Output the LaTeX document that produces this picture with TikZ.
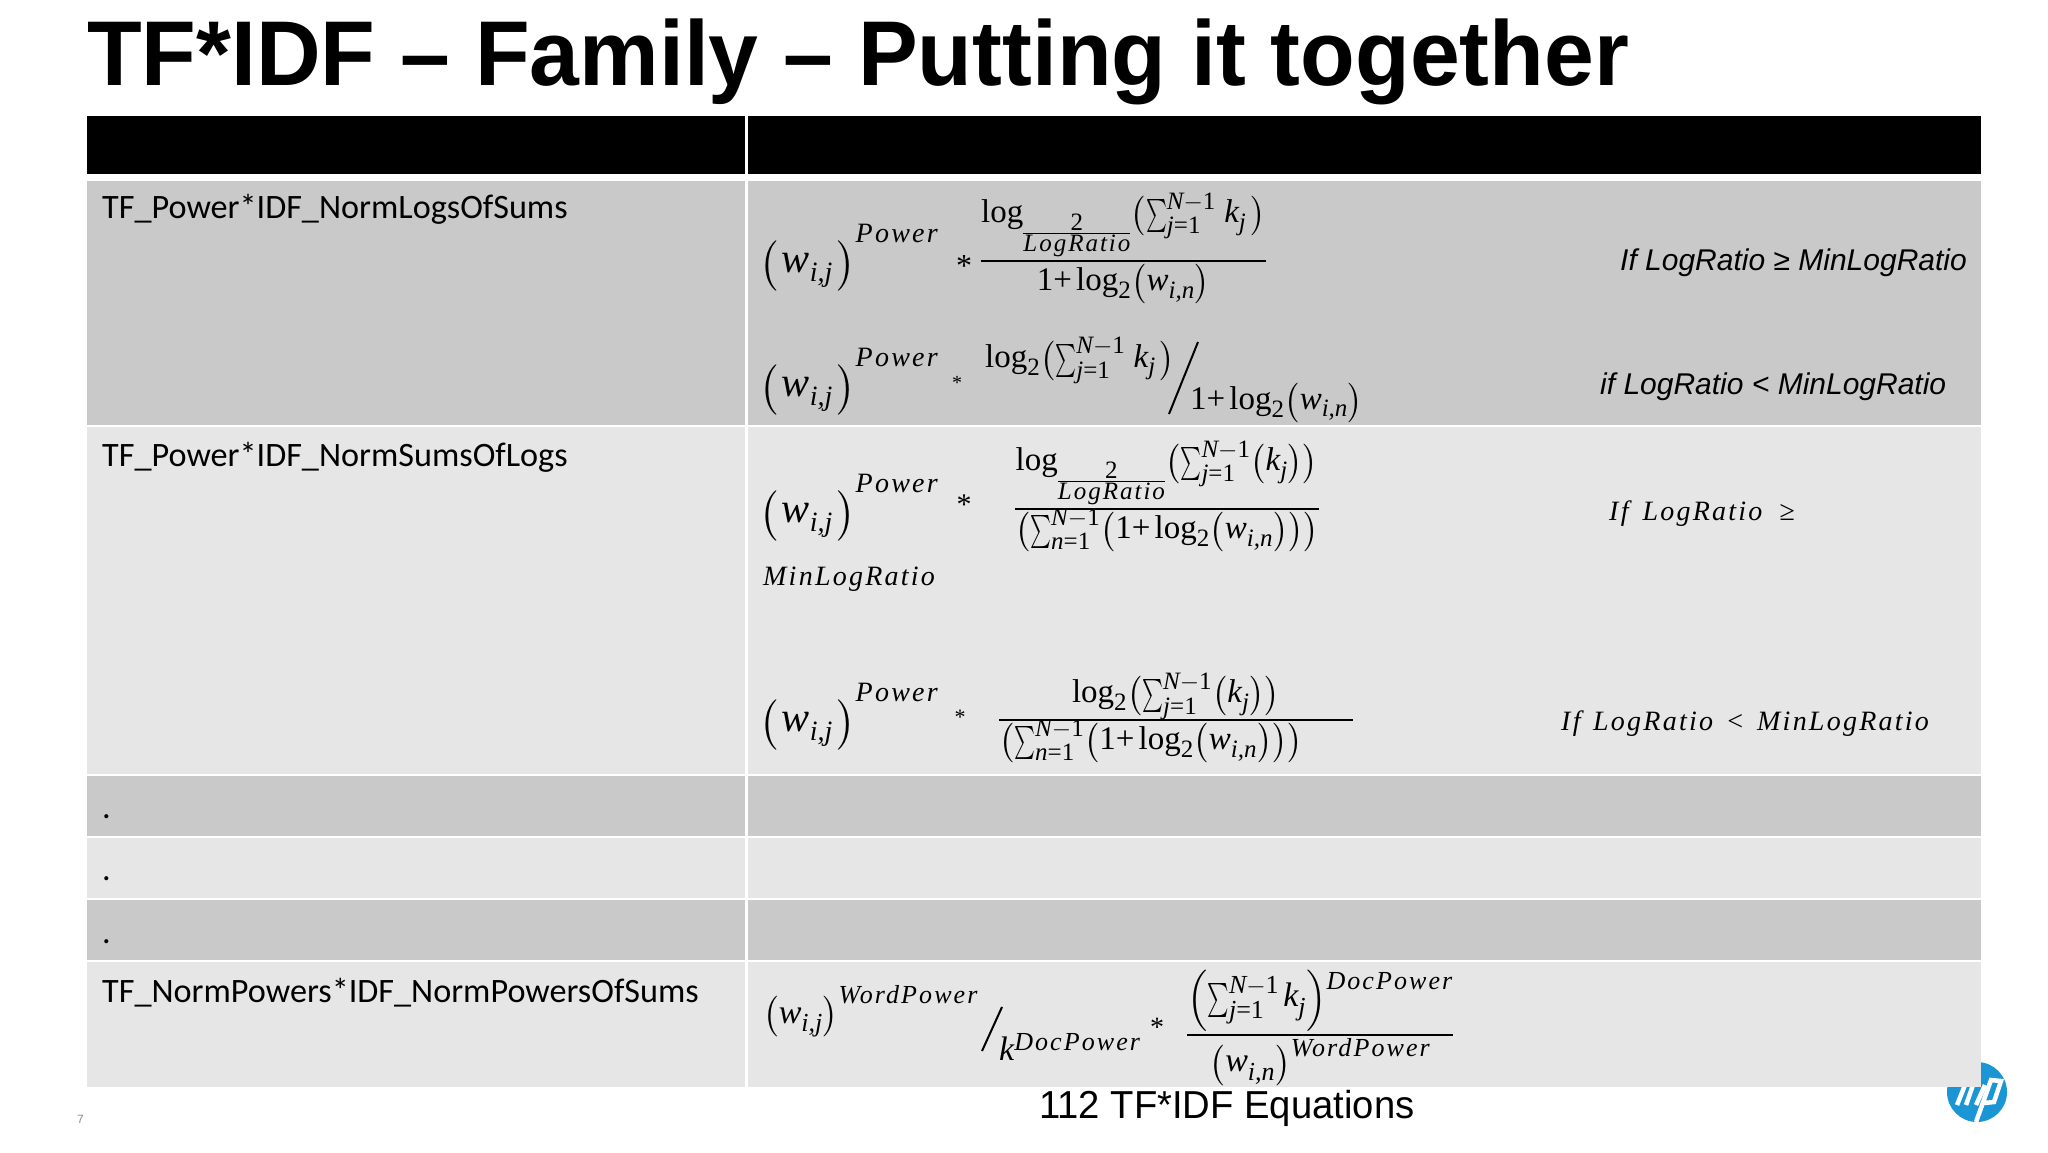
\documentclass[tikz,border=0pt]{standalone}
\usepackage{amsmath,amssymb}
\usepackage[no-math]{fontspec}
\setmainfont{Liberation Sans}
\newfontfamily\cellfont{Carlito}
\newfontfamily\eqfont[NFSSFamily=eqserif,ItalicFeatures={LetterSpace=8}]{Liberation Serif}
\DeclareSymbolFont{operators}{TU}{eqserif}{m}{n}
\DeclareSymbolFont{letters}{TU}{eqserif}{m}{it}
\mathcode`,="612C
\DeclareMathSizes{42}{42}{28}{22}
\DeclareMathSizes{33}{33}{25}{25}
\DeclareMathSizes{34}{34}{26}{20}
\usetikzlibrary{positioning}
\definecolor{rowdark}{HTML}{C9C9C9}
\definecolor{rowlight}{HTML}{E6E6E6}
\definecolor{logoblue}{HTML}{1A96D4}

\nulldelimiterspace=0pt
\newcommand{\pr}[1]{\mathopen{}\left(\smash{#1}\vrule height 0.7em depth 0.2em width 0pt\right)\mathclose{}}
\newcommand{\prb}[1]{\mathopen{}\left(\smash{#1}\vrule height 0.85em depth 0.35em width 0pt\right)\mathclose{}}
\newcommand{\prw}[1]{\mathopen{}\left(\smash{#1}\vrule height 0.8em depth 0.3em width 0pt\right)\mathclose{}}
\newcommand{\eqw}[1]{\text{\eqfont\itshape #1}}
\newcommand{\eqsup}[2]{^{\raisebox{#1}{$\scriptstyle\eqw{#2}$}}}
\newcommand{\wpow}{\prw{\mkern2.5mu w_{i,j}\mkern2.5mu}\eqsup{20pt}{Power}}
\newcommand{\eqsum}{\mathop{\scalebox{0.6}[1]{$\textstyle\sum$}}\nolimits}
\newcommand{\sumk}{\eqsum_{j=1}^{N-1}}
\newcommand{\sumn}{\eqsum_{n=1}^{N-1}}
\newcommand{\logsub}{\log_{\frac{2}{\eqw{LogRatio}}}}
\newcommand{\eqfrac}[2]{{{\textstyle #1}\above 2.4pt{\textstyle #2}}}

\begin{document}
\begin{tikzpicture}[
    x=1pt, y=-1pt,
    node distance=2pt and 3pt,
    cellleft/.style={rectangle, fill=#1, minimum width=658pt, inner sep=0pt, outer sep=0pt},
    cellright/.style={rectangle, fill=#1, minimum width=1233pt, inner sep=0pt, outer sep=0pt},
    rowname/.style={anchor=base west, inner sep=0pt, font=\cellfont\fontsize{34.2}{38}\selectfont},
    cond/.style={anchor=base west, inner sep=0pt, font=\itshape\fontsize{30}{34}\selectfont},
    condeq/.style={anchor=base west, inner sep=0pt, font=\eqfont\itshape\fontsize{28}{32}\selectfont},
    eqbig/.style={anchor=base west, inner sep=0pt, font=\fontsize{42}{48}\selectfont},
    eq/.style={anchor=base west, inner sep=0pt, font=\fontsize{33}{38}\selectfont},
    eqlast/.style={anchor=base west, inner sep=0pt, font=\fontsize{34}{38}\selectfont},
    star/.style={anchor=base, inner sep=0pt, font=\eqfont\fontsize{#1}{40}\selectfont}
  ]
\useasboundingbox (0,0) rectangle (2048,1152);

% Logo
\node[circle, fill=logoblue, minimum size=60pt, inner sep=0pt] (logo) at (1977,1092) {};
\draw[white, line width=4.5pt] (1957,1105) -- (1965,1085);
\draw[white, line width=4.5pt] (1966,1105) -- (1973,1085);
\draw[white, line width=4.5pt] (1976,1105) -- (1985,1085);
\draw[white, line width=4.5pt] (1976,1122) -- (1991,1080) -- (2001,1081) -- (1994,1102) -- (1984,1103);

% Title
\node[anchor=base west, inner sep=0pt, font=\bfseries\fontsize{92}{100}\selectfont] (title) at (87,85) {\scalebox{0.973}[1]{TF*IDF -- Family -- Putting it together}};

% Table
\node[cellleft=black, minimum height=58pt, anchor=north west] (headL) at (87,116) {};
\node[cellright=black, minimum height=58pt, right=3pt of headL] (headR) {};
\node[cellleft=rowdark, minimum height=244pt, below=7pt of headL] (rowaL) {};
\node[cellright=rowdark, minimum height=244pt, right=3pt of rowaL] (rowaR) {};
\node[cellleft=rowlight, minimum height=347pt, below=of rowaL] (rowbL) {};
\node[cellright=rowlight, minimum height=347pt, right=3pt of rowbL] (rowbR) {};
\node[cellleft=rowdark, minimum height=60pt, below=of rowbL] (rowcL) {};
\node[cellright=rowdark, minimum height=60pt, right=3pt of rowcL] (rowcR) {};
\node[cellleft=rowlight, minimum height=60pt, below=of rowcL] (rowdL) {};
\node[cellright=rowlight, minimum height=60pt, right=3pt of rowdL] (rowdR) {};
\node[cellleft=rowdark, minimum height=60pt, below=of rowdL] (roweL) {};
\node[cellright=rowdark, minimum height=60pt, right=3pt of roweL] (roweR) {};
\node[cellleft=rowlight, minimum height=125pt, below=of roweL] (rowfL) {};
\node[cellright=rowlight, minimum height=125pt, right=3pt of rowfL] (rowfR) {};

% Row names
\node[rowname] (namea) at (102,218) {TF\_Power*IDF\_NormLogsOfSums};
\node[rowname] (nameb) at (102,466) {TF\_Power*IDF\_NormSumsOfLogs};
\node[rowname] (namec) at (102,818) {.};
\node[rowname] (named) at (102,880) {.};
\node[rowname] (namee) at (102,943) {.};
\node[rowname] (namef) at (102,1002) {TF\_NormPowers*IDF\_NormPowersOfSums};

% Row a equations
\node[eqbig] (powa) at (759,272) {$\wpow$};
\node[star=32] (stara) at (964,276) {*};
\node[eq] (fraca) at (981,267) {$\eqfrac{\logsub\prb{\sumk\,k_j\,}}{1{+}\log_2\pr{w_{i,n}}}$};
\node[eqbig] (powb) at (759,396) {$\wpow$};
\node[star=20] (starb) at (957,389) {*};
\node[eq] (numb) at (985,367) {$\log_2\prb{\sumk\,k_j\,}$};
\draw[line width=2pt] (1198,342) -- (1169,414);
\node[eq] (denb) at (1190,409) {$1{+}\log_2\pr{w_{i,n}}$};
\node[cond] (conda) at (1620,270) {If LogRatio ≥ MinLogRatio};
\node[cond] (condb) at (1600,394) {if LogRatio < MinLogRatio};

% Row b equations
\node[eqbig] (powc) at (759,522) {$\wpow$};
\node[star=30] (starc) at (964,514) {*};
\node[eq] (fracc) at (1015,515) {$\eqfrac{\logsub\prb{\sumk\pr{k_j}}}{\pr{\sumn\pr{1{+}\log_2\pr{w_{i,n}}}}}$};
\node[condeq] (minc) at (763,585) {MinLogRatio};
\node[condeq] (condc) at (1609,520) {If\hspace{.5em}LogRatio\hspace{.6em}≥};
\node[eqbig] (powd) at (759,731) {$\wpow$};
\node[star=22] (stard) at (960,724) {*};
\node[eq] (fracd) at (999,726) {$\eqfrac{\log_2\prb{\sumk\pr{k_j}}}{\pr{\sumn\pr{1{+}\log_2\pr{w_{i,n}}}}\hspace{50pt}}$};
\node[condeq] (condd) at (1561,730) {If\hspace{.45em}LogRatio\hspace{.45em}<\hspace{.45em}MinLogRatio};

% Row f equation
\node[eqlast] (powf) at (763,1023) {$\pr{w_{i,j}}\eqsup{10pt}{WordPower}$};
\draw[line width=2pt] (1002,1007) -- (982,1051);
\node[eqlast] (denf) at (999,1060) {$k\eqsup{0pt}{DocPower}$};
\node[star=28] (starf) at (1157,1036) {*};
\node[eqlast] (fracf) at (1187,1041) {$\eqfrac{\prb{\sumk k_j}\eqsup{8pt}{DocPower}}{\pr{w_{i,n}}\eqsup{6pt}{WordPower}}$};

% Footer
\node[anchor=base west, inner sep=0pt, font=\fontsize{39}{44}\selectfont] (count) at (1039,1118) {\scalebox{0.98}[1]{112 TF*IDF Equations}};
\node[anchor=base west, inner sep=0pt, text=black!45, font=\fontsize{12}{14}\selectfont] (page) at (77,1123) {7};

\end{tikzpicture}
\end{document}
